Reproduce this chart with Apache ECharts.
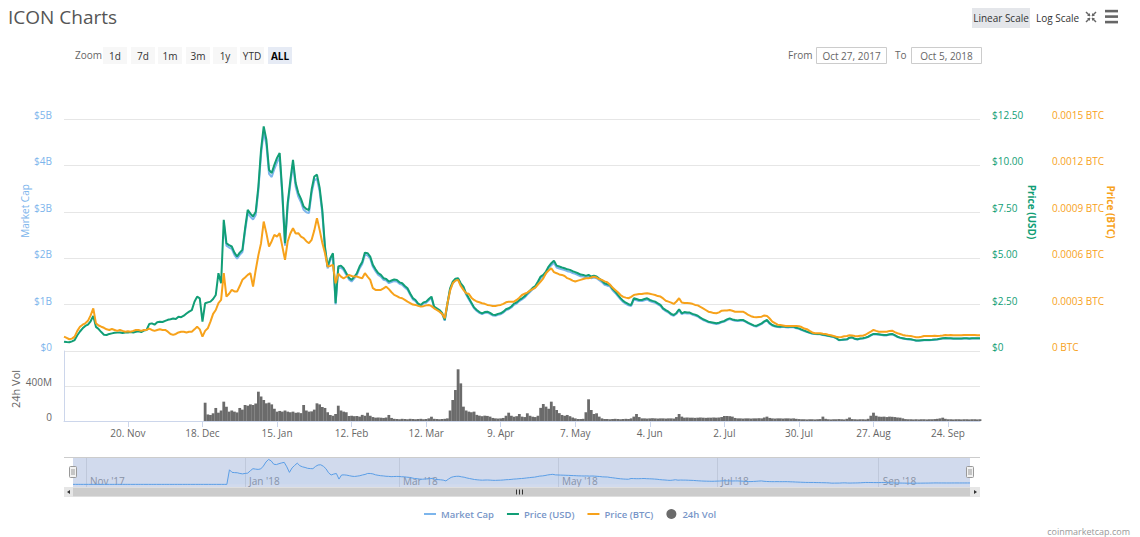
<!DOCTYPE html>
<html><head><meta charset="utf-8">
<script src="https://cdn.jsdelivr.net/npm/echarts@6/dist/echarts.min.js"></script>
<style>html,body{margin:0;padding:0;background:#fff}#c{width:1140px;height:537px}</style>
</head><body><div id="c"></div>
<script>
// ---- data (daily, starting 2017-10-27) ----
const startDate = '2017-10-27';
// Market cap in billions USD (0 = not reported yet)
const marketCapB = [
0,0,0,0,0,0,0,0,0,0, 0,0,0,0,0,0,0,0,0,0, 0,0,0,0,0,0,0,0,0,0, 0,0,0,0,0,0,0,0,0,0,
0,0,0,0,0,0,0,0,0,0, 0,0,0,0,0,0,0,0,0,0,
2.764,2.272,2.229,2.201,2.072,1.990,2.072,2.131,2.581,2.972,
2.893,2.835,2.933,3.464,4.238,4.731,4.450,3.816,3.750,3.922,
4.066,4.172,3.327,2.272,3.116,3.597,4.027,3.539,3.327,3.206,
3.042,2.991,2.972,3.402,3.675,3.715,3.441,2.972,2.201,1.779,
1.955,2.061,1.005,1.779,1.799,1.744,1.642,1.544,1.498,1.564,
1.638,1.779,1.877,2.072,2.061,1.990,1.814,1.720,1.642,1.603,
1.533,1.517,1.462,1.486,1.505,1.498,1.447,1.427,1.369,1.322,
1.212,1.114,1.075,0.997,0.970,1.024,1.040,1.095,1.146,0.934,
0.899,0.864,0.802,0.653,1.005,1.322,1.462,1.525,1.533,1.427,
1.357,1.216,1.114,1.017,0.919,0.864,0.821,0.794,0.821,0.829,
0.802,0.766,0.759,0.782,0.794,0.829,0.880,0.899,0.938,0.997,
1.024,1.075,1.110,1.153,1.216,1.271,1.329,1.369,1.466,1.568,
1.603,1.673,1.779,1.849,1.904,1.799,1.779,1.760,1.744,1.720,
1.709,1.681,1.662,1.638,1.611,1.603,1.584,1.603,1.568,1.584,
1.568,1.525,1.486,1.427,1.408,1.392,1.310,1.251,1.181,1.114,
1.056,1.017,0.985,0.970,1.110,1.095,1.075,1.075,1.095,1.110,
1.075,1.056,1.040,1.005,0.970,0.899,0.860,0.829,0.782,0.759,
0.802,0.880,0.794,0.821,0.809,0.809,0.782,0.766,0.743,0.704,
0.669,0.645,0.618,0.606,0.594,0.583,0.594,0.618,0.633,0.665,
0.688,0.665,0.653,0.645,0.653,0.653,0.626,0.594,0.567,0.540,
0.528,0.555,0.583,0.626,0.653,0.587,0.547,0.528,0.516,0.512,
0.520,0.512,0.508,0.516,0.512,0.489,0.477,0.450,0.430,0.407,
0.391,0.371,0.364,0.360,0.360,0.344,0.336,0.321,0.313,0.301,
0.274,0.231,0.235,0.242,0.246,0.282,0.289,0.258,0.246,0.262,
0.270,0.282,0.301,0.332,0.360,0.356,0.352,0.344,0.336,0.336,
0.352,0.360,0.332,0.301,0.282,0.270,0.258,0.250,0.246,0.235,
0.223,0.219,0.227,0.231,0.231,0.231,0.235,0.242,0.246,0.258,
0.270,0.274,0.270,0.270,0.266,0.262,0.262,0.266,0.270,0.270,
0.266,0.270,0.270,0.270,0.270];
// Price in USD
const priceUsd = [
0.50,0.48,0.47,0.52,0.59,0.85,1.05,1.22,1.35,1.42,
1.60,1.89,1.30,1.18,1.02,0.88,0.86,0.92,0.95,0.98,
0.99,1.00,0.97,0.99,1.00,1.02,1.00,1.04,1.06,1.02,
1.10,1.13,1.45,1.49,1.42,1.55,1.58,1.56,1.62,1.68,
1.71,1.75,1.72,1.85,1.82,1.90,2.02,2.12,2.20,2.65,
2.93,2.84,1.58,2.57,2.62,2.66,2.80,3.02,4.19,3.65,
7.07,5.81,5.70,5.63,5.30,5.09,5.30,5.45,6.60,7.60,
7.40,7.25,7.50,8.86,10.84,12.10,11.38,9.76,9.59,10.03,
10.40,10.67,8.51,5.81,7.97,9.20,10.30,9.05,8.51,8.20,
7.78,7.65,7.60,8.70,9.40,9.50,8.80,7.60,5.63,4.55,
5.00,5.27,2.57,4.55,4.60,4.46,4.20,3.95,3.83,4.00,
4.19,4.55,4.80,5.30,5.27,5.09,4.64,4.40,4.20,4.10,
3.92,3.88,3.74,3.80,3.85,3.83,3.70,3.65,3.50,3.38,
3.10,2.85,2.75,2.55,2.48,2.62,2.66,2.80,2.93,2.39,
2.30,2.21,2.05,1.67,2.57,3.38,3.74,3.90,3.92,3.65,
3.47,3.11,2.85,2.60,2.35,2.21,2.10,2.03,2.10,2.12,
2.05,1.96,1.94,2.00,2.03,2.12,2.25,2.30,2.40,2.55,
2.62,2.75,2.84,2.95,3.11,3.25,3.40,3.50,3.75,4.01,
4.10,4.28,4.55,4.73,4.87,4.60,4.55,4.50,4.46,4.40,
4.37,4.30,4.25,4.19,4.12,4.10,4.05,4.10,4.01,4.05,
4.01,3.90,3.80,3.65,3.60,3.56,3.35,3.20,3.02,2.85,
2.70,2.60,2.52,2.48,2.84,2.80,2.75,2.75,2.80,2.84,
2.75,2.70,2.66,2.57,2.48,2.30,2.20,2.12,2.00,1.94,
2.05,2.25,2.03,2.10,2.07,2.07,2.00,1.96,1.90,1.80,
1.71,1.65,1.58,1.55,1.52,1.49,1.52,1.58,1.62,1.70,
1.76,1.70,1.67,1.65,1.67,1.67,1.60,1.52,1.45,1.38,
1.35,1.42,1.49,1.60,1.67,1.50,1.40,1.35,1.32,1.31,
1.33,1.31,1.30,1.32,1.31,1.25,1.22,1.15,1.10,1.04,
1.00,0.95,0.93,0.92,0.92,0.88,0.86,0.82,0.80,0.77,
0.70,0.59,0.60,0.62,0.63,0.72,0.74,0.66,0.63,0.67,
0.69,0.72,0.77,0.85,0.92,0.91,0.90,0.88,0.86,0.86,
0.90,0.92,0.85,0.77,0.72,0.69,0.66,0.64,0.63,0.60,
0.57,0.56,0.58,0.59,0.59,0.59,0.60,0.62,0.63,0.66,
0.69,0.70,0.69,0.69,0.68,0.67,0.67,0.68,0.69,0.69,
0.68,0.69,0.69,0.69,0.69];
// Price in BTC
const priceBtc = [
0.93e-4,0.85e-4,0.76e-4,0.80e-4,0.93e-4,1.30e-4,1.57e-4,1.70e-4,1.79e-4,1.95e-4,
2.30e-4,2.76e-4,1.79e-4,1.65e-4,1.57e-4,1.50e-4,1.40e-4,1.36e-4,1.42e-4,1.36e-4,
1.30e-4,1.36e-4,1.30e-4,1.25e-4,1.28e-4,1.25e-4,1.30e-4,1.36e-4,1.36e-4,1.30e-4,
1.36e-4,1.36e-4,1.45e-4,1.36e-4,1.30e-4,1.36e-4,1.40e-4,1.36e-4,1.36e-4,1.25e-4,
1.10e-4,1.04e-4,1.10e-4,1.20e-4,1.25e-4,1.25e-4,1.20e-4,1.25e-4,1.25e-4,1.40e-4,
1.57e-4,1.40e-4,0.93e-4,1.30e-4,1.47e-4,1.90e-4,2.40e-4,2.65e-4,3.10e-4,3.30e-4,
5.03e-4,3.52e-4,3.70e-4,3.95e-4,3.85e-4,3.84e-4,4.20e-4,4.60e-4,4.75e-4,4.92e-4,
5.03e-4,4.16e-4,5.24e-4,6.20e-4,6.97e-4,8.37e-4,7.62e-4,6.75e-4,7.10e-4,7.51e-4,
7.40e-4,7.62e-4,6.75e-4,5.89e-4,7.08e-4,7.60e-4,7.94e-4,7.60e-4,7.62e-4,7.40e-4,
7.30e-4,7.10e-4,6.97e-4,7.19e-4,7.80e-4,8.59e-4,7.83e-4,7.00e-4,6.33e-4,5.46e-4,
5.50e-4,5.57e-4,4.38e-4,5.00e-4,4.81e-4,4.70e-4,4.80e-4,4.92e-4,4.85e-4,4.81e-4,
4.81e-4,4.75e-4,4.71e-4,5.03e-4,4.81e-4,4.60e-4,4.06e-4,3.95e-4,3.95e-4,3.95e-4,
4.05e-4,4.16e-4,4.00e-4,3.80e-4,3.63e-4,3.55e-4,3.45e-4,3.41e-4,3.30e-4,3.19e-4,
3.10e-4,3.00e-4,2.98e-4,2.92e-4,2.87e-4,2.90e-4,2.95e-4,2.98e-4,2.90e-4,2.76e-4,
2.65e-4,2.54e-4,2.40e-4,2.12e-4,3.09e-4,3.90e-4,4.38e-4,4.55e-4,4.60e-4,4.20e-4,
3.95e-4,3.74e-4,3.70e-4,3.45e-4,3.30e-4,3.20e-4,3.15e-4,3.09e-4,3.05e-4,2.98e-4,
2.95e-4,2.91e-4,2.91e-4,2.95e-4,2.98e-4,3.05e-4,3.15e-4,3.19e-4,3.19e-4,3.19e-4,
3.30e-4,3.45e-4,3.62e-4,3.70e-4,3.78e-4,3.90e-4,4.00e-4,4.10e-4,4.30e-4,4.49e-4,
4.70e-4,5.03e-4,5.20e-4,5.35e-4,5.10e-4,5.03e-4,4.95e-4,4.92e-4,4.85e-4,4.71e-4,
4.65e-4,4.55e-4,4.49e-4,4.55e-4,4.60e-4,4.65e-4,4.70e-4,4.71e-4,4.75e-4,4.81e-4,
4.75e-4,4.65e-4,4.60e-4,4.50e-4,4.45e-4,4.30e-4,4.10e-4,3.95e-4,3.80e-4,3.62e-4,
3.50e-4,3.45e-4,3.41e-4,3.50e-4,3.62e-4,3.66e-4,3.69e-4,3.69e-4,3.72e-4,3.74e-4,
3.70e-4,3.66e-4,3.62e-4,3.55e-4,3.52e-4,3.40e-4,3.25e-4,3.19e-4,3.13e-4,3.04e-4,
3.20e-4,3.41e-4,3.13e-4,3.10e-4,3.10e-4,3.09e-4,3.05e-4,2.98e-4,2.95e-4,2.85e-4,
2.76e-4,2.65e-4,2.54e-4,2.50e-4,2.45e-4,2.44e-4,2.50e-4,2.61e-4,2.62e-4,2.62e-4,
2.65e-4,2.60e-4,2.54e-4,2.54e-4,2.54e-4,2.54e-4,2.45e-4,2.33e-4,2.25e-4,2.20e-4,
2.18e-4,2.20e-4,2.22e-4,2.30e-4,2.27e-4,2.10e-4,1.90e-4,1.80e-4,1.70e-4,1.68e-4,
1.65e-4,1.62e-4,1.62e-4,1.62e-4,1.62e-4,1.61e-4,1.60e-4,1.55e-4,1.45e-4,1.41e-4,
1.30e-4,1.20e-4,1.15e-4,1.15e-4,1.15e-4,1.12e-4,1.10e-4,1.05e-4,1.02e-4,0.97e-4,
0.92e-4,0.89e-4,0.91e-4,0.95e-4,0.97e-4,1.02e-4,1.00e-4,0.97e-4,0.96e-4,0.98e-4,
0.99e-4,1.05e-4,1.15e-4,1.25e-4,1.36e-4,1.30e-4,1.25e-4,1.24e-4,1.25e-4,1.25e-4,
1.30e-4,1.31e-4,1.22e-4,1.15e-4,1.10e-4,1.04e-4,1.00e-4,0.98e-4,0.97e-4,0.93e-4,
0.89e-4,0.89e-4,0.92e-4,0.97e-4,0.97e-4,0.97e-4,0.97e-4,0.98e-4,0.97e-4,0.98e-4,
1.00e-4,1.04e-4,1.02e-4,1.04e-4,1.02e-4,1.02e-4,1.02e-4,1.02e-4,1.04e-4,1.04e-4,
1.03e-4,1.04e-4,1.03e-4,1.02e-4,1.02e-4];
// 24h volume in millions USD
const volumeM = [
0,0,0,0,0,0,0,0,0,0, 0,0,0,0,0,0,0,0,0,0, 0,0,0,0,0,0,0,0,0,0, 0,0,0,0,0,0,0,0,0,0,
0,0,0,0,0,0,0,0,0,0, 0,0,0,209,75,69,88,149,95,120,
221,163,107,120,107,98,149,130,183,175,
190,183,200,335,280,240,202,210,190,140,
107,115,107,120,107,100,107,94,98,90,
183,120,107,110,130,202,190,160,149,100,
69,60,80,175,120,107,100,57,60,55,
57,50,70,60,95,60,45,38,40,38,
35,40,69,35,25,23,20,25,23,20,
25,23,20,23,25,20,23,30,49,25,
23,20,23,25,30,120,240,354,591,430,
164,120,107,100,107,70,61,55,61,58,
50,35,30,28,30,35,60,95,60,49,
55,80,50,45,88,60,49,45,60,150,
194,164,140,221,170,126,90,69,60,69,
55,40,30,23,23,25,100,248,126,80,
88,50,30,23,23,20,23,25,23,20,
23,25,23,30,50,80,45,30,30,28,
30,32,30,28,30,30,28,30,30,28,
45,80,50,38,40,38,38,36,38,40,
38,36,38,38,40,38,40,45,57,57,
55,50,35,30,30,28,30,30,28,30,
30,32,30,40,50,35,30,28,30,30,
28,30,30,28,30,25,22,20,20,18,
20,20,18,20,22,50,25,20,18,20,
20,22,20,18,25,40,22,20,18,20,
20,18,25,60,95,60,50,48,50,45,
50,48,45,40,38,30,22,20,20,18,
20,18,20,20,18,20,20,22,25,30,
38,25,20,20,18,20,20,18,20,20,
18,20,20,18,20];
// axis tick labels
const tickDates = ['2017-11-20','2017-12-18','2018-01-15','2018-02-12','2018-03-12','2018-04-09','2018-05-07','2018-06-04','2018-07-02','2018-07-30','2018-08-27','2018-09-24'];
const tickLabels = ['20. Nov','18. Dec','15. Jan','12. Feb','12. Mar','9. Apr','7. May','4. Jun','2. Jul','30. Jul','27. Aug','24. Sep'];
const navTickDates = ['2017-11-01','2018-01-01','2018-03-01','2018-05-01','2018-07-01','2018-09-01'];
const navTickLabels = ["Nov '17","Jan '18","Mar '18","May '18","Jul '18","Sep '18"];
const zoomButtons = ['1d','7d','1m','3m','1y','YTD','ALL'];
const legendNames = ['Market Cap','Price (USD)','Price (BTC)','24h Vol'];

// ---- build ----
const DAY = 86400000;
const T0 = Date.parse(startDate + 'T00:00:00Z');
const dates = priceUsd.map((_, i) => T0 + i * DAY);
const TMAX = dates[dates.length - 1];
const toTs = s => Date.parse(s + 'T00:00:00Z');
const tickTs = tickDates.map(toTs);
const navTs = navTickDates.map(toTs);
const pick = (arr, lab) => v => { const i = arr.findIndex(t => Math.abs(t - v) < DAY / 2); return i < 0 ? '' : lab[i]; };
const pair = arr => arr.map((v, i) => [dates[i], v]);
// main chart leaves unreported (0) market cap out; navigator shows them at 0
const mcapMain = marketCapB.map((v, i) => [dates[i], v === 0 ? null : v]);

const FONT = '"Open Sans", "DejaVu Sans", sans-serif';
const C_MCAP = '#7cb5ec', C_USD = '#119e76', C_BTC = '#f7a21b', C_VOL = '#6b6b6b';

function txt(x, y, text, o = {}) {
  return { type: 'text', x, y, rotation: o.rot || 0, z: 20,
    style: { text, fill: o.color || '#666', fontSize: o.size || 11, fontFamily: FONT, fontWeight: o.weight || 'normal',
      textAlign: o.align || 'left', textVerticalAlign: 'middle', align: o.align || 'left', verticalAlign: 'middle' } };
}
function rect(x, y, w, h, fill, stroke, r, z) {
  return { type: 'rect', z: z == null ? 15 : z, shape: { x, y, width: w, height: h, r: r || 0 },
    style: { fill, stroke: stroke || null, lineWidth: stroke ? 1 : 0 } };
}
function line(x1, y1, x2, y2, color, w, z) {
  return { type: 'line', z: z == null ? 16 : z, shape: { x1, y1, x2, y2 }, style: { stroke: color, lineWidth: w || 1 } };
}

const g = [];
g.push(txt(8, 17, 'ICON Charts', { size: 19, color: '#555' }));
g.push(txt(75, 55, 'Zoom', { size: 10, color: '#666' }));
const zx = [103, 131, 158, 186, 213, 240, 268];
zoomButtons.forEach((b, i) => {
  const sel = b === 'ALL';
  g.push(rect(zx[i], 47, 24, 17, sel ? '#e6ebf5' : '#f7f7f7', null, 0));
  g.push(txt(zx[i] + 12, 55.5, b, { size: 10, color: sel ? '#000' : '#333', align: 'center', weight: sel ? 'bold' : 'normal' }));
});
g.push(txt(788, 55, 'From', { size: 10, color: '#666' }));
g.push(rect(816.5, 47.5, 70, 16, '#fff', '#cccccc', 0));
g.push(txt(851.5, 55.5, 'Oct 27, 2017', { size: 10, color: '#666', align: 'center' }));
g.push(txt(895, 55, 'To', { size: 10, color: '#666' }));
g.push(rect(911.5, 47.5, 70, 16, '#fff', '#cccccc', 0));
g.push(txt(946.5, 55.5, 'Oct 5, 2018', { size: 10, color: '#666', align: 'center' }));
g.push(rect(972, 8, 58, 20, '#e4e6ea', null, 0));
g.push(txt(1001, 18, 'Linear Scale', { size: 10, color: '#333', align: 'center' }));
g.push(txt(1036, 18, 'Log Scale', { size: 10, color: '#333' }));
// compress icon: four arrows pointing to the centre
[[1086, 12, 1, 1], [1096, 12, -1, 1], [1086, 22, 1, -1], [1096, 22, -1, -1]].forEach(([x, y, sx, sy]) => {
  const tx = x + 4 * sx, ty = y + 4 * sy;
  g.push(line(x, y, tx, ty, '#666', 1.5));
  g.push({ type: 'polygon', z: 16, shape: { points: [[tx, ty], [tx - 3 * sx, ty], [tx, ty - 3 * sy]] }, style: { fill: '#666' } });
});
[11, 16.5, 22].forEach(y => g.push(rect(1105, y - 1.2, 13, 2.6, '#666', null, 0)));
g.push(txt(25, 211, 'Market Cap', { size: 10, color: C_MCAP, align: 'center', rot: Math.PI / 2 }));
g.push(txt(1032, 212, 'Price (USD)', { size: 10, color: C_USD, align: 'center', rot: -Math.PI / 2, weight: 'bold' }));
g.push(txt(1111, 212, 'Price (BTC)', { size: 10, color: C_BTC, align: 'center', rot: -Math.PI / 2, weight: 'bold' }));
g.push(txt(15, 389, '24h Vol', { size: 11, color: '#666', align: 'center', rot: Math.PI / 2 }));
// navigator
g.push(rect(73, 457, 897, 30, 'rgba(102,133,194,0.3)', null, 0, 1));
g.push(line(64, 457.5, 980, 457.5, '#cccccc', 1, 3));
[73, 970].forEach(x => {
  g.push(rect(x - 3.5, 466.5, 7, 11, '#f2f2f2', '#999999', 1, 18));
  g.push(line(x - 1, 469, x - 1, 475, '#999999', 1, 19));
  g.push(line(x + 1, 469, x + 1, 475, '#999999', 1, 19));
});
// scrollbar
g.push(rect(64, 487, 916, 10, '#f2f2f2', null, 0, 12));
g.push(rect(73, 487.5, 897, 9, '#cccccc', null, 0, 13));
[516, 519, 522].forEach(x => g.push(line(x + 0.5, 489.5, x + 0.5, 494.5, '#333', 1, 14)));
g.push(rect(64, 487, 9, 10, '#e6e6e6', null, 0, 13));
g.push(rect(970, 487, 10, 10, '#e6e6e6', null, 0, 13));
g.push({ type: 'polygon', z: 14, shape: { points: [[70, 490], [70, 494], [67, 492]] }, style: { fill: '#333' } });
g.push({ type: 'polygon', z: 14, shape: { points: [[974, 490], [974, 494], [977, 492]] }, style: { fill: '#333' } });
g.push(txt(1130, 531, 'coinmarketcap.com', { size: 9, color: '#999', align: 'right' }));

const upLabel = { verticalAlign: 'bottom', lineHeight: 8 };
const lineIcon = 'path://M0,0M0,4L12,4L12,6L0,6ZM12,10';
const option = {
  animation: false,
  textStyle: { fontFamily: FONT },
  grid: [
    { left: 64, width: 916, top: 119, height: 232 },
    { left: 64, width: 916, top: 351, height: 70 },
    { left: 73, width: 897, top: 458, height: 29 }
  ],
  xAxis: [
    { type: 'value', gridIndex: 0, min: T0, max: TMAX, show: false },
    { type: 'value', gridIndex: 1, min: T0, max: TMAX,
      axisLine: { lineStyle: { color: '#ccd6eb' } },
      axisTick: { customValues: tickTs, length: 6, lineStyle: { color: '#ccd6eb' } },
      axisLabel: { customValues: tickTs, formatter: pick(tickTs, tickLabels), color: '#666', fontSize: 10, margin: 7 },
      splitLine: { show: false } },
    { type: 'value', gridIndex: 2, min: T0, max: TMAX,
      axisLine: { show: false },
      axisTick: { show: false, customValues: navTs },
      axisLabel: { customValues: navTs, formatter: pick(navTs, navTickLabels), inside: true, color: '#999', fontSize: 10, align: 'left', padding: [0, 0, 0, 4], margin: 1 },
      splitLine: { show: true, lineStyle: { color: '#e6e6e6' } } }
  ],
  yAxis: [
    { type: 'value', gridIndex: 0, position: 'left', min: 0, max: 5, interval: 1,
      axisLabel: Object.assign({ formatter: v => v === 0 ? '$0' : '$' + v + 'B', color: C_MCAP, fontSize: 10, margin: 12 }, upLabel),
      axisLine: { show: false }, axisTick: { show: false },
      splitLine: { lineStyle: { color: '#e6e6e6' } } },
    { type: 'value', gridIndex: 0, position: 'right', min: 0, max: 12.5, interval: 2.5,
      axisLabel: Object.assign({ formatter: v => v === 0 ? '$0' : '$' + v.toFixed(2), color: C_USD, fontSize: 10, margin: 12 }, upLabel),
      axisLine: { show: false }, axisTick: { show: false }, splitLine: { show: false } },
    { type: 'value', gridIndex: 0, position: 'right', offset: 60, min: 0, max: 0.0015, interval: 0.0003,
      axisLabel: Object.assign({ formatter: v => v === 0 ? '0 BTC' : (+v.toFixed(4)) + ' BTC', color: C_BTC, fontSize: 10, margin: 12 }, upLabel),
      axisLine: { show: false }, axisTick: { show: false }, splitLine: { show: false } },
    { type: 'value', gridIndex: 1, position: 'left', min: 0, max: 800, interval: 400,
      axisLabel: Object.assign({ formatter: v => v === 0 ? '0' : v + 'M', color: '#666', fontSize: 10, margin: 12, showMaxLabel: false }, upLabel),
      axisLine: { show: true, lineStyle: { color: '#ccd6eb' } }, axisTick: { show: false },
      splitLine: { lineStyle: { color: '#e6e6e6' } } },
    { type: 'value', gridIndex: 2, min: -0.5, max: 5, show: false }
  ],
  legend: {
    left: 419, top: 504, itemGap: 13, itemWidth: 12, itemHeight: 10,
    textStyle: { color: '#7896c8', fontSize: 9.5, fontWeight: 600, fontFamily: FONT },
    data: [{ name: legendNames[0], icon: lineIcon }, { name: legendNames[1], icon: lineIcon }, { name: legendNames[2], icon: lineIcon }, { name: legendNames[3], icon: 'circle' }]
  },
  series: [
    { name: legendNames[0], type: 'line', xAxisIndex: 0, yAxisIndex: 0, data: mcapMain, showSymbol: false, symbol: 'none',
      lineStyle: { width: 2, color: C_MCAP }, itemStyle: { color: C_MCAP }, z: 2 },
    { name: legendNames[1], type: 'line', xAxisIndex: 0, yAxisIndex: 1, data: pair(priceUsd), showSymbol: false, symbol: 'none',
      lineStyle: { width: 2, color: C_USD }, itemStyle: { color: C_USD }, z: 3 },
    { name: legendNames[2], type: 'line', xAxisIndex: 0, yAxisIndex: 2, data: pair(priceBtc), showSymbol: false, symbol: 'none',
      lineStyle: { width: 2, color: C_BTC }, itemStyle: { color: C_BTC }, z: 4 },
    { name: legendNames[3], type: 'bar', xAxisIndex: 1, yAxisIndex: 3, data: pair(volumeM), barWidth: 2.8,
      itemStyle: { color: C_VOL } },
    { name: 'navigator', type: 'line', xAxisIndex: 2, yAxisIndex: 4, data: pair(marketCapB), showSymbol: false, symbol: 'none',
      lineStyle: { width: 1, color: '#5b9ee6' }, itemStyle: { color: '#5b9ee6' }, areaStyle: { color: 'rgba(91,158,230,0.08)' }, z: 5 }
  ],
  graphic: { elements: g }
};
const chart = echarts.init(document.getElementById('c'), null, { renderer: 'svg' });
chart.setOption(option);
</script>
</body></html>
